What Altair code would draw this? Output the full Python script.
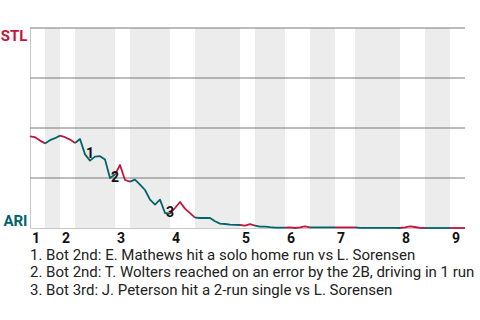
import altair as alt
import pandas as pd

# ---- data ----
half_names = ["Top 1", "Bot 1", "Top 2", "Bot 2", "Top 3", "Bot 3", "Top 4", "Bot 4",
              "Top 5", "Bot 5", "Top 6", "Bot 6", "Top 7", "Bot 7", "Top 8", "Bot 8", "Top 9"]
half_starts = [0, 3, 6, 9, 17, 20, 28, 33, 42, 45, 51, 56, 61, 65, 74, 79, 84]
total_plays = 87

inning_starts = [0, 6, 17, 28, 42, 51, 61, 74, 84]
inning_names = ["1", "2", "3", "4", "5", "6", "7", "8", "9"]

# STL win probability after each play (index 0 = before first pitch)
stl_wp = [
    0.458, 0.454, 0.437, 0.423, 0.439, 0.449, 0.462, 0.454, 0.442, 0.425,
    0.445, 0.368, 0.337, 0.357, 0.359, 0.342, 0.250, 0.267, 0.315, 0.240,
    0.232, 0.242, 0.217, 0.190, 0.142, 0.117, 0.142, 0.075, 0.072, 0.100,
    0.130, 0.097, 0.074, 0.052, 0.050, 0.051, 0.050, 0.034, 0.022, 0.020,
    0.017, 0.016, 0.015, 0.012, 0.019, 0.012, 0.007, 0.007, 0.004, 0.002,
    0.002, 0.002, 0.003, 0.000, 0.003, 0.008, 0.003, 0.003, 0.003, 0.003,
    0.003, 0.003, 0.003, 0.003, 0.003, 0.003, 0.001, 0.001, 0.001, 0.001,
    0.001, 0.001, 0.001, 0.001, 0.000, 0.003, 0.008, 0.005, 0.001, 0.000,
    0.000, 0.000, 0.000, 0.000, 0.000, 0.000, 0.000, 0.000,
]

marker_plays = [11, 16, 27]
marker_text = ["1", "2", "3"]

notes = [
    "1. Bot 2nd: E. Mathews hit a solo home run vs L. Sorensen",
    "2. Bot 2nd: T. Wolters reached on an error by the 2B, driving in 1 run",
    "3. Bot 3rd: J. Peterson hit a 2-run single vs L. Sorensen",
]

grid_values = [0.25, 0.5, 0.75, 1.0]

teams = ["STL", "ARI"]
team_colors = ["#c4153b", "#00646a"]

# ---- tables ----
half_ends = half_starts[1:] + [total_plays]
band_rows = []
line_rows = []
for k, (name, s, e) in enumerate(zip(half_names, half_starts, half_ends)):
    team = "STL" if name.startswith("Top") else "ARI"
    if team == "ARI":
        band_rows.append({"start": s, "end": e, "half": name})
    for i in range(s, e + 1):
        line_rows.append({"play": i, "wp": stl_wp[i], "half": name, "team": team})
bands_df = pd.DataFrame(band_rows)
line_df = pd.DataFrame(line_rows)
grid_df = pd.DataFrame({"g": grid_values})
marker_df = pd.DataFrame({"play": marker_plays,
                          "wp": [stl_wp[i] for i in marker_plays],
                          "label": marker_text})

# ---- scales / axes ----
xs = alt.Scale(domain=[0, total_plays], nice=False, zero=False)
ys = alt.Scale(domain=[0, 1], nice=False)

x_expr = "[" + ",".join("'%s'" % n for n in inning_names) + "][indexof([" + \
    ",".join(str(v) for v in inning_starts) + "], datum.value)]"
x_axis = alt.Axis(values=inning_starts, labelExpr=x_expr, title=None, ticks=False,
                  tickSize=0, grid=False, labelAlign="left", labelOffset=1.5,
                  labelFont="Roboto", labelFontWeight="bold", labelFontSize=14,
                  labelColor="#111111", labelPadding=3, labelFlush=False,
                  labelOverlap=False, domainColor="#c8c8c8", domainWidth=1)
y_axis = alt.Axis(values=[0, 1], labelExpr="datum.value == 1 ? 'STL' : 'ARI'",
                  title=None, ticks=False, tickSize=0, grid=False, labelFlush=True,
                  labelFont="Roboto", labelFontWeight="bold", labelFontSize=15,
                  labelColor={"condition": {"test": "datum.value == 1", "value": team_colors[0]},
                              "value": team_colors[1]},
                  labelPadding=3, domainColor="#c8c8c8", domainWidth=1)

bands = alt.Chart(bands_df).mark_rect(color="#ececec").encode(
    x=alt.X("start:Q", scale=xs, axis=x_axis),
    x2="end:Q",
)

grid = alt.Chart(grid_df).mark_rule(color="#7a7a7a", strokeWidth=1).encode(
    y=alt.Y("g:Q", scale=ys, axis=y_axis),
)

line = alt.Chart(line_df).mark_line(strokeWidth=1.8, strokeJoin="round").encode(
    x=alt.X("play:Q", scale=xs, axis=x_axis),
    y=alt.Y("wp:Q", scale=ys, axis=y_axis),
    color=alt.Color("team:N", scale=alt.Scale(domain=teams, range=team_colors), legend=None),
    detail="half:N",
    order="play:Q",
)

markers = alt.Chart(marker_df).mark_text(
    align="left", baseline="middle", dx=1, font="Roboto", fontWeight="bold",
    fontSize=14, color="#111111"
).encode(
    x=alt.X("play:Q", scale=xs, axis=x_axis),
    y=alt.Y("wp:Q", scale=ys, axis=y_axis),
    text="label:N",
)

chart = alt.layer(bands, grid, line, markers).properties(
    width=435,
    height=200,
    padding={"left": 30, "top": 28, "right": 15, "bottom": 92},
    autosize=alt.AutoSizeParams(type="none"),
    background="white",
    title=alt.TitleParams(text=notes, orient="bottom", anchor="start", frame="group",
                          font="Roboto", fontSize=15, fontWeight="normal",
                          color="#222222", lineHeight=17.5, offset=2.5),
).configure_view(stroke=None)

chart.save("out.html", embed_options={"renderer": "svg", "actions": False})
